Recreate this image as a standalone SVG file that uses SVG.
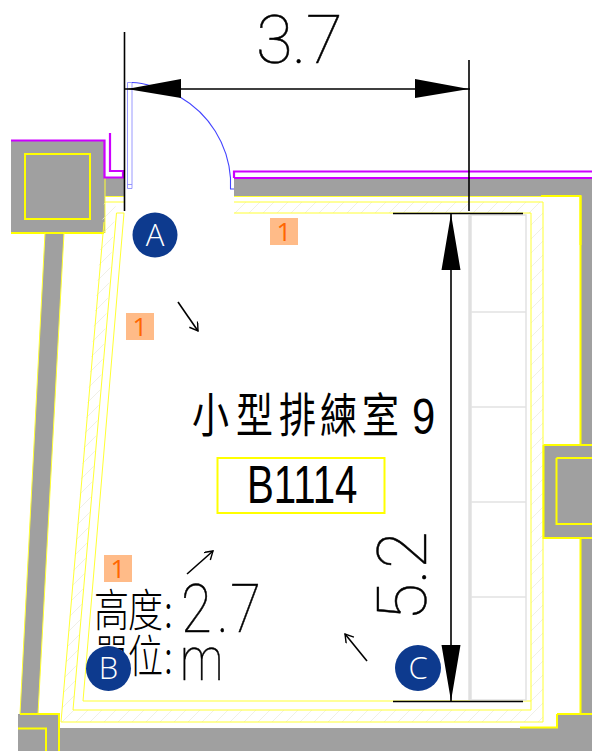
<svg xmlns="http://www.w3.org/2000/svg" width="592" height="751" viewBox="0 0 592 751">
<style>
.w{fill:#a0a0a0}
.y{fill:none;stroke:#ffff33;stroke-width:1}
.yb{fill:none;stroke:#ffff00;stroke-width:2}
.m{fill:none;stroke:#cc00ff;stroke-width:2.200}
.d{fill:none;stroke:#8080ff;stroke-width:0.800}
.a{fill:none;stroke:#4444ff;stroke-width:1.100}
.s{fill:none;stroke:#e2e2e2;stroke-width:1.500}
.k{fill:none;stroke:#000;stroke-width:1.600}
.bd{fill:#0d3a8e}
.bt{fill:#fff;font:300 31px "Open Sans","Noto Sans",sans-serif;text-anchor:middle}
.or{fill:#ffbb88}
.ot{fill:#ff6600;font:400 26px "Open Sans","Noto Sans",sans-serif;text-anchor:middle}
.cad{fill:#000;stroke:#000;stroke-width:0.500;font-family:"Roboto","Noto Sans",sans-serif;font-weight:100}
.cjk{fill:#000;font-family:"Noto Sans CJK TC",sans-serif;font-weight:300}
</style>
<defs>
<pattern id="h" width="14" height="14" patternUnits="userSpaceOnUse"><path d="M-2 16L16 -2" stroke="#ecece0" stroke-width="0.800"/></pattern>
<marker id="op" markerWidth="12" markerHeight="12" refX="9" refY="5" orient="auto" markerUnits="userSpaceOnUse"><path d="M1 0L9 5L1 10" fill="none" stroke="#000" stroke-width="1.400"/></marker>
</defs>
<rect width="592" height="751" fill="#fff"/>
<g id="walls">
<path class="w" d="M11 140H105V177H124V196H105V233H64L38 714H59V728H592V714H557V728H60V714H20L45 233H11Z"/>
<path class="w" d="M234 178H592V445H581V196H234Z"/>
<path class="w" d="M543 445H592V538H543Z"/>
<path class="w" d="M581 538H592V714H581Z"/>
<path class="w" d="M557 714H592V751H18V714H60V728H557Z"/>
<path fill="url(#h)" d="M234 202H543V722H61L104 202H116L73 710H531V213H234Z"/>
<path class="yb" d="M11 233H104M25 154H90V219H25Z"/>
<path class="y" d="M45 233L20 714M64 233L38 714"/>
<path class="y" d="M105 177V233"/>
<path class="y" d="M105 196.500H124M105 202H124M234 196.500H541M234 202H543V722H61L104 222M234 213H531V710H73L116.500 213H124L83 701H531"/>
<path class="yb" d="M541 196H580.500V245"/>
<path class="yb" d="M580.500 196V445M543.500 445V538H592M543.500 445H592M556.500 458H592M556.500 458V524H592M580.500 538V714M557 714H592M557 714V727.500H520"/>
<path class="yb" d="M20 714H59V751M18 728.500H46V751"/>
<path class="m" d="M110 133V171H123V177.500H104.500V140.500H11"/>
<path class="m" d="M234 178H592M234 178V171.500H592"/>
</g>
<g id="door">
<path class="d" d="M127.500 82.500H132V188.500H127.500ZM127.500 184.500H132"/>
<path class="a" d="M132 82.500Q150 83 180 97A102 102 0 0 1 230.500 178V189H234"/>
</g>
<g id="shelf">
<path fill="none" stroke="#e0e0e0" stroke-width="3.500" d="M470 215V700"/>
<path class="s" d="M470 215H526V700H470M471 312H526M471 407H526M471 502H526M471 597H526"/>
</g>
<g id="connectors">
<path class="k" d="M124.500 32V211M469 60V211M125 89H470M393 213.500H523M393 701.500H523M451 214V701"/>
<path d="M127 89L181 79V98ZM469 89L415 79V98ZM451 214L441.500 270H460.500ZM451 701L441.500 645H460.500Z"/>
<path class="k" marker-end="url(#op)" d="M178 302L198 331"/>
<path class="k" marker-end="url(#op)" d="M187 574L213 551"/>
<path class="k" marker-end="url(#op)" d="M367 661L345 634"/>
</g>
<g id="dim-w"><text class="cad" transform="translate(256 63)" font-size="67" x="0 36 50">3.7</text></g>
<g id="dim-h"><text class="cad" transform="translate(426 621) rotate(-90)" font-size="69" x="0 37 52">5.2</text></g>
<g id="room">
<text class="cjk" transform="translate(192 432) scale(1 1.250)" font-size="37" x="0 44 87 128 170" style="font-weight:400">小型排練室</text>
<text transform="translate(412 434) scale(0.950 1.150)" font-size="44" font-family="Liberation Sans,sans-serif">9</text>
</g>
<g id="room-id">
<rect class="yb" x="217.500" y="458" width="167" height="55"/>
<text transform="translate(247 503) scale(0.760 1)" font-size="53" font-family="Liberation Sans,sans-serif">B1114</text>
</g>
<g id="info">
<text class="cjk" font-size="35" transform="translate(94 627) scale(1 1.300)" x="0 34 70">高度:</text>
<text class="cad" font-size="66" transform="translate(181 632) scale(0.850 1)" x="0 42 58">2.7</text>
<text class="cjk" font-size="35" transform="translate(94 673) scale(1 1.300)" x="0 34 70">單位:</text>
<text class="cad" font-size="62" transform="translate(180 680) scale(0.780 1)">m</text>
</g>
<g id="badge-a"><circle class="bd" cx="155" cy="235" r="22.500"/><text class="bt" x="155" y="246">A</text></g>
<g id="badge-b"><circle class="bd" cx="108.500" cy="668.500" r="22.500"/><text class="bt" x="108.500" y="679">B</text></g>
<g id="badge-c"><circle class="bd" cx="418" cy="668" r="23"/><text class="bt" x="418" y="679">C</text></g>
<g id="tag-1"><rect class="or" x="270" y="218" width="28" height="27"/><text class="ot" x="284" y="241">1</text></g>
<g id="tag-2"><rect class="or" x="126" y="313" width="28" height="27"/><text class="ot" x="140" y="336">1</text></g>
<g id="tag-3"><rect class="or" x="104" y="555" width="28" height="27"/><text class="ot" x="118" y="578">1</text></g>
</svg>
